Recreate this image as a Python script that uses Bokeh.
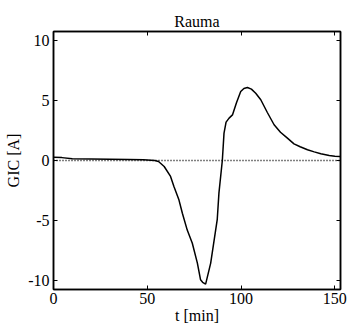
from bokeh.plotting import figure
from bokeh.models import LinearAxis, Range1d, FixedTicker, CustomJSTickFormatter
from bokeh.embed import file_html
from bokeh.resources import INLINE

t = [0, 4.5, 10, 20, 30, 40, 48, 52, 54, 56, 59, 62.4, 64.2, 66.9, 68.7, 71.3, 74, 76.7, 78.4, 79.5, 81.1,
     83.8, 87.3, 88.2, 90, 90.9, 92, 93.6, 95.4, 97.5, 99.8, 101.5, 103.4, 105.5, 107.8, 110.5, 114, 117.6,
     121, 124.7, 128.2, 131.5, 135.4, 139, 142.5, 147, 150, 152.8]
gic = [0.28, 0.24, 0.14, 0.12, 0.1, 0.08, 0.06, 0.03, 0.0, -0.08, -0.5, -1.33, -2.17, -3.3, -4.4, -5.8, -6.9,
       -8.55, -9.94, -10.15, -10.3, -8.55, -4.9, -2.7, 0.0, 2.28, 3.2, 3.53, 3.8, 4.8, 5.75, 6.0, 6.08, 5.95,
       5.6, 5.06, 4.0, 2.98, 2.35, 1.86, 1.39, 1.15, 0.9, 0.72, 0.56, 0.42, 0.36, 0.33]
zero_t = [0, 153]
zero_y = [0, 0]

x_ticks = [0, 50, 100, 150]
x_tick_labels = {0: "0", 50: "50", 100: "100", 150: "150"}
y_ticks = [-10, -5, 0, 5, 10]
y_tick_labels = {-10: "-10", -5: "-5", 0: "0", 5: "5", 10: "10"}

FONT = "'Liberation Serif', 'Times New Roman', serif"

p = figure(width=347, height=326, output_backend="svg", toolbar_location=None,
           x_range=Range1d(0, 153), y_range=Range1d(-10.75, 10.75),
           title="Rauma", min_border_left=53, min_border_right=7, min_border_top=31,
           min_border_bottom=37, x_axis_label="t [min]", y_axis_label="GIC [A]")

p.title.align = "center"
p.title.text_font = FONT
p.title.text_font_style = "normal"
p.title.text_font_size = "16px"
p.title.text_color = "black"
p.title.standoff = 4

p.grid.visible = False
p.outline_line_color = "black"
p.outline_line_width = 1.5
p.background_fill_color = "white"
p.border_fill_color = "white"

for ax in list(p.xaxis) + list(p.yaxis):
    ax.major_label_text_font = FONT
    ax.major_label_text_font_size = "16px"
    ax.major_label_text_color = "black"
    ax.axis_label_text_font = FONT
    ax.axis_label_text_font_size = "16px"
    ax.axis_label_text_font_style = "normal"
    ax.axis_label_text_color = "black"
    ax.major_tick_in = 4
    ax.major_tick_out = 0
    ax.minor_tick_in = 0
    ax.minor_tick_out = 0
    ax.axis_line_color = "black"
    ax.axis_line_width = 1.5
    ax.major_tick_line_color = "black"
    ax.major_label_standoff = 4
    ax.axis_label_standoff = 3

p.xaxis.ticker = FixedTicker(ticks=x_ticks)
p.xaxis.major_label_overrides = x_tick_labels
p.yaxis.ticker = FixedTicker(ticks=y_ticks)
p.yaxis.major_label_overrides = y_tick_labels
p.xaxis.major_label_standoff = 3
p.xaxis.axis_label_standoff = 0

blank = CustomJSTickFormatter(code="return ''")
ax_r = LinearAxis(ticker=FixedTicker(ticks=y_ticks), formatter=blank,
                  major_tick_in=4, major_tick_out=0, minor_tick_in=0, minor_tick_out=0,
                  major_label_standoff=0, axis_line_color="black", axis_line_width=1.5)
ax_t = LinearAxis(ticker=FixedTicker(ticks=x_ticks), formatter=blank,
                  major_tick_in=4, major_tick_out=0, minor_tick_in=0, minor_tick_out=0,
                  major_label_standoff=0, axis_line_color="black", axis_line_width=1.5)
p.add_layout(ax_r, "right")
p.add_layout(ax_t, "above")

p.line(zero_t, zero_y, line_color="black", line_width=1.3, line_dash="1 2")
p.line(t, gic, line_color="black", line_width=1.5)

open("out.html", "w").write(file_html(p, INLINE))
